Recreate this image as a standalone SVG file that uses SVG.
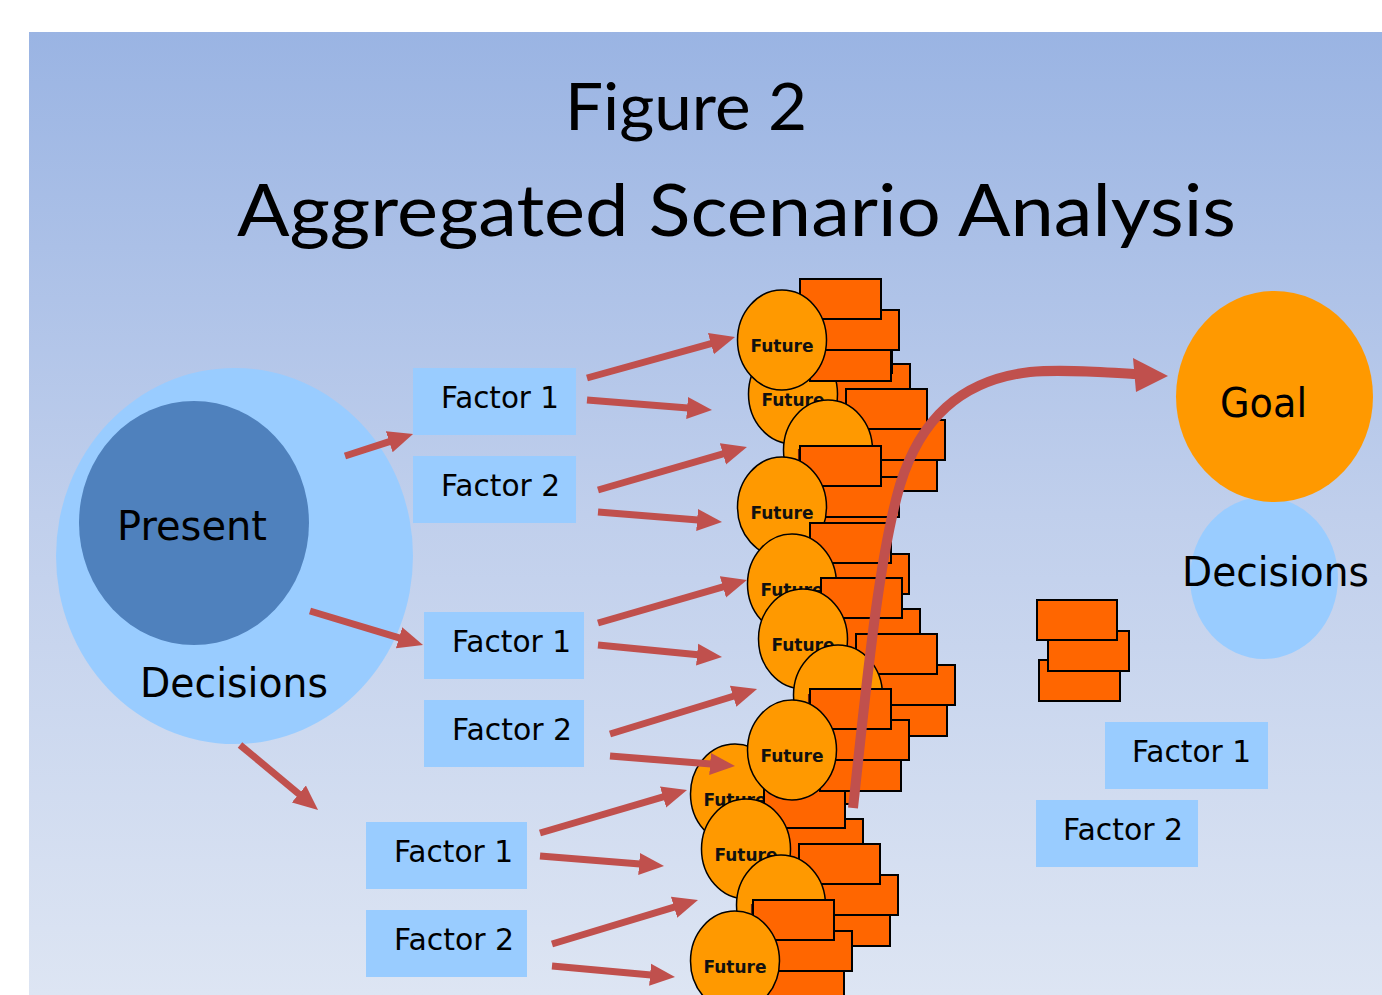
<svg xmlns="http://www.w3.org/2000/svg" width="1382" height="995" viewBox="0 0 1382 995">
<defs>
<linearGradient id="bg" x1="0" y1="0" x2="0" y2="1">
<stop offset="0" stop-color="#9AB4E3"/>
<stop offset="0.5" stop-color="#C0CFEC"/>
<stop offset="1" stop-color="#DDE5F3"/>
</linearGradient>
<marker id="ah" markerUnits="userSpaceOnUse" markerWidth="26" markerHeight="24" refX="1" refY="12" orient="auto"><path d="M0,1 L25,12 L0,23 z" fill="#C0504D"/></marker>
</defs>
<style>
.title{font-family:Lato,"Open Sans",sans-serif;fill:#000}
.box{fill:#99CCFF}
.lbl{font-family:"DejaVu Sans",Verdana,sans-serif;font-size:30px;fill:#000}
.big{font-family:"DejaVu Sans",Verdana,sans-serif;font-size:40px;fill:#000}
.rc{fill:#FF6600;stroke:#000;stroke-width:2}
.el{fill:#FF9900;stroke:#000;stroke-width:1.5}
.ft{font-family:"DejaVu Sans",Verdana,sans-serif;font-weight:bold;font-size:17px;fill:#111;text-anchor:middle}
.arr{stroke:#C0504D;stroke-width:7;fill:none;marker-end:url(#ah)}
</style>
<rect x="0" y="0" width="1382" height="995" fill="#FFFFFF"/>
<rect x="29" y="32" width="1353" height="963" fill="url(#bg)"/>
<text class="title" x="565" y="130" font-size="66" textLength="242" lengthAdjust="spacingAndGlyphs">Figure 2</text>
<text class="title" x="237" y="236" font-size="72" textLength="999" lengthAdjust="spacingAndGlyphs">Aggregated Scenario Analysis</text>

<g id="present">
<ellipse cx="234.5" cy="556" rx="178.5" ry="188" fill="#99CCFF"/>
<ellipse cx="194" cy="523" rx="115" ry="122" fill="#4F81BD"/>
<text class="big" x="117" y="540" textLength="150" lengthAdjust="spacingAndGlyphs">Present</text>
<text class="big" x="140" y="697" textLength="188" lengthAdjust="spacingAndGlyphs">Decisions</text>
</g>

<g id="factor-top-1"><rect class="box" x="413" y="368" width="163" height="67"/><text class="lbl" x="441" y="408" textLength="118" lengthAdjust="spacingAndGlyphs">Factor 1</text></g>
<g id="factor-top-2"><rect class="box" x="413" y="456" width="163" height="67"/><text class="lbl" x="441" y="496" textLength="119" lengthAdjust="spacingAndGlyphs">Factor 2</text></g>
<g id="factor-mid-1"><rect class="box" x="424" y="612" width="160" height="67"/><text class="lbl" x="452" y="652" textLength="119" lengthAdjust="spacingAndGlyphs">Factor 1</text></g>
<g id="factor-mid-2"><rect class="box" x="424" y="700" width="160" height="67"/><text class="lbl" x="452" y="740" textLength="120" lengthAdjust="spacingAndGlyphs">Factor 2</text></g>
<g id="factor-bot-1"><rect class="box" x="366" y="822" width="161" height="67"/><text class="lbl" x="394" y="862" textLength="119" lengthAdjust="spacingAndGlyphs">Factor 1</text></g>
<g id="factor-bot-2"><rect class="box" x="366" y="910" width="161" height="67"/><text class="lbl" x="394" y="950" textLength="120" lengthAdjust="spacingAndGlyphs">Factor 2</text></g>

<g id="future-t2" transform="translate(793,394)"><rect class="rc" x="28" y="1" width="81" height="40"/><rect class="rc" x="36" y="-30" width="81" height="40"/><rect class="rc" x="18" y="-61" width="81" height="40"/><ellipse class="el" cx="0" cy="0" rx="44.5" ry="50"/><text class="ft" x="0" y="12">Future</text></g>
<g id="future-t1" transform="translate(782,340)"><rect class="rc" x="28" y="1" width="81" height="40"/><rect class="rc" x="36" y="-30" width="81" height="40"/><rect class="rc" x="18" y="-61" width="81" height="40"/><ellipse class="el" cx="0" cy="0" rx="44.5" ry="50"/><text class="ft" x="0" y="12">Future</text></g>
<g id="future-t3" transform="translate(828,450)"><rect class="rc" x="28" y="1" width="81" height="40"/><rect class="rc" x="36" y="-30" width="81" height="40"/><rect class="rc" x="18" y="-61" width="81" height="40"/><ellipse class="el" cx="0" cy="0" rx="44.5" ry="50"/><text class="ft" x="0" y="12">Future</text></g>
<g id="future-t4" transform="translate(782,507)"><rect class="rc" x="28" y="1" width="81" height="40"/><rect class="rc" x="36" y="-30" width="81" height="40"/><rect class="rc" x="18" y="-61" width="81" height="40"/><ellipse class="el" cx="0" cy="0" rx="44.5" ry="50"/><text class="ft" x="0" y="12">Future</text></g>
<g id="future-b1" transform="translate(735,794)"><rect class="rc" x="28" y="1" width="81" height="40"/><rect class="rc" x="36" y="-30" width="81" height="40"/><rect class="rc" x="18" y="-61" width="81" height="40"/><ellipse class="el" cx="0" cy="0" rx="44.5" ry="50"/><text class="ft" x="0" y="12">Future</text></g>
<g id="future-b2" transform="translate(746,849)"><rect class="rc" x="28" y="1" width="81" height="40"/><rect class="rc" x="36" y="-30" width="81" height="40"/><rect class="rc" x="18" y="-61" width="81" height="40"/><ellipse class="el" cx="0" cy="0" rx="44.5" ry="50"/><text class="ft" x="0" y="12">Future</text></g>
<g id="future-b3" transform="translate(781,905)"><rect class="rc" x="28" y="1" width="81" height="40"/><rect class="rc" x="36" y="-30" width="81" height="40"/><rect class="rc" x="18" y="-61" width="81" height="40"/><ellipse class="el" cx="0" cy="0" rx="44.5" ry="50"/><text class="ft" x="0" y="12">Future</text></g>
<g id="future-b4" transform="translate(735,961)"><rect class="rc" x="28" y="1" width="81" height="40"/><rect class="rc" x="36" y="-30" width="81" height="40"/><rect class="rc" x="18" y="-61" width="81" height="40"/><ellipse class="el" cx="0" cy="0" rx="44.5" ry="50"/><text class="ft" x="0" y="12">Future</text></g>
<g id="future-m1" transform="translate(792,584)"><rect class="rc" x="28" y="1" width="81" height="40"/><rect class="rc" x="36" y="-30" width="81" height="40"/><rect class="rc" x="18" y="-61" width="81" height="40"/><ellipse class="el" cx="0" cy="0" rx="44.5" ry="50"/><text class="ft" x="0" y="12">Future</text></g>
<g id="future-m2" transform="translate(803,639)"><rect class="rc" x="28" y="1" width="81" height="40"/><rect class="rc" x="36" y="-30" width="81" height="40"/><rect class="rc" x="18" y="-61" width="81" height="40"/><ellipse class="el" cx="0" cy="0" rx="44.5" ry="50"/><text class="ft" x="0" y="12">Future</text></g>
<g id="future-m3" transform="translate(838,695)"><rect class="rc" x="28" y="1" width="81" height="40"/><rect class="rc" x="36" y="-30" width="81" height="40"/><rect class="rc" x="18" y="-61" width="81" height="40"/><ellipse class="el" cx="0" cy="0" rx="44.5" ry="50"/><text class="ft" x="0" y="12">Future</text></g>
<g id="future-m4" transform="translate(792,750)"><rect class="rc" x="28" y="1" width="81" height="40"/><rect class="rc" x="36" y="-30" width="81" height="40"/><rect class="rc" x="18" y="-61" width="81" height="40"/><ellipse class="el" cx="0" cy="0" rx="44.5" ry="50"/><text class="ft" x="0" y="12">Future</text></g>

<g id="goal-stack">
<rect class="rc" x="1039" y="660" width="81" height="41"/>
<rect class="rc" x="1048" y="631" width="81" height="40"/>
<rect class="rc" x="1037" y="600" width="80" height="40"/>
</g>
<g id="goal-decisions">
<ellipse cx="1264" cy="578" rx="74" ry="81" fill="#99CCFF"/>
<text class="big" x="1182" y="586" textLength="187" lengthAdjust="spacingAndGlyphs">Decisions</text>
</g>
<g id="goal">
<ellipse cx="1274.5" cy="396.5" rx="98.5" ry="105.5" fill="#FF9900"/>
<text class="big" x="1220" y="417" textLength="87" lengthAdjust="spacingAndGlyphs">Goal</text>
</g>
<g id="factor-goal-1"><rect class="box" x="1105" y="722" width="163" height="67"/><text class="lbl" x="1132" y="762" textLength="119" lengthAdjust="spacingAndGlyphs">Factor 1</text></g>
<g id="factor-goal-2"><rect class="box" x="1036" y="800" width="162" height="67"/><text class="lbl" x="1063" y="840" textLength="120" lengthAdjust="spacingAndGlyphs">Factor 2</text></g>

<g id="connectors">
<line class="arr" x1="345" y1="456" x2="390.2" y2="441.4"/>
<line class="arr" x1="310" y1="611" x2="400.0" y2="638.1"/>
<line class="arr" x1="240" y1="745" x2="299.6" y2="794.6"/>
<line class="arr" x1="587" y1="378" x2="711.9" y2="343.4"/>
<line class="arr" x1="587" y1="400" x2="688.1" y2="408.1"/>
<line class="arr" x1="598" y1="490" x2="723.9" y2="453.6"/>
<line class="arr" x1="598" y1="512" x2="698.1" y2="520.1"/>
<line class="arr" x1="598" y1="623" x2="723.9" y2="586.6"/>
<line class="arr" x1="598" y1="645" x2="698.1" y2="654.7"/>
<line class="arr" x1="610" y1="734" x2="734.1" y2="696.0"/>
<line class="arr" x1="610" y1="756" x2="711.1" y2="764.1"/>
<line class="arr" x1="540" y1="833" x2="664.0" y2="796.7"/>
<line class="arr" x1="540" y1="856" x2="640.1" y2="864.1"/>
<line class="arr" x1="552" y1="944" x2="675.0" y2="906.9"/>
<line class="arr" x1="552" y1="966" x2="651.1" y2="974.9"/>
<path d="M853,808 C866,690 878,560 900,485 C920,420 960,380 1030,372 C1060,369 1100,372 1136,374" fill="none" stroke="#C0504D" stroke-width="10"/>
<polygon points="1133,358 1168,376 1136,392" fill="#C0504D"/>
</g>
</svg>
